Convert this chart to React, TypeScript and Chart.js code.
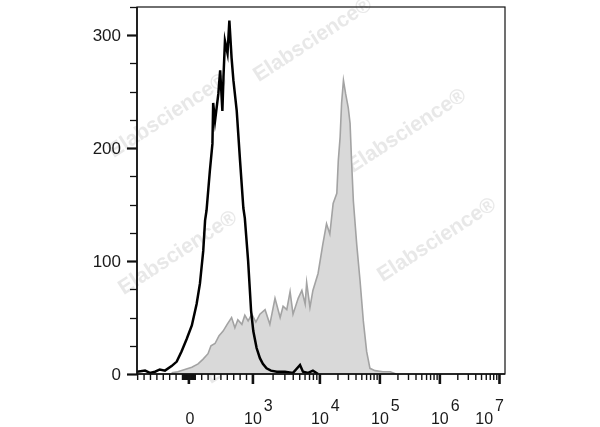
import React, { useEffect, useRef } from 'react';
import { Chart, registerables } from 'chart.js';

Chart.register(...registerables);

// Histogram channels (display position on the logicle axis, 0..1000) and event counts
const BLACK_CHANNEL = [0, 22, 35, 49, 62, 76, 94, 108, 121, 135, 149, 162, 171, 180, 185, 189, 198, 205, 207, 212, 221, 226, 232, 235, 239, 246, 251, 257, 262, 271, 280, 289, 293, 302, 310, 316, 325, 334, 342, 352, 364, 380, 402, 424, 443, 451, 465, 478, 492];
const BLACK_COUNT = [2, 3, 1, 2, 4, 3, 7, 11, 20, 31, 43, 62, 80, 109, 136, 145, 180, 204, 240, 224, 248, 269, 233, 263, 295, 284, 313, 280, 260, 233, 189, 147, 138, 100, 56, 38, 23, 14, 9, 5, 3, 2, 2, 1, 8, 2, 1, 3, 0];

const GREY_CHANNEL = [94, 111, 130, 149, 166, 179, 193, 201, 212, 223, 234, 245, 257, 266, 274, 285, 293, 302, 312, 323, 334, 348, 361, 375, 389, 397, 407, 416, 424, 438, 448, 457, 461, 470, 478, 492, 505, 515, 524, 533, 543, 547, 552, 556, 561, 567, 574, 579, 583, 588, 597, 606, 615, 624, 633, 647, 668, 688, 704];
const GREY_COUNT = [1, 2, 4, 6, 9, 13, 18, 25, 27, 34, 38, 44, 50, 41, 48, 44, 52, 47, 53, 46, 53, 57, 44, 67, 50, 60, 57, 73, 53, 67, 74, 62, 81, 59, 74, 89, 115, 133, 124, 151, 160, 189, 210, 240, 260, 248, 236, 222, 189, 153, 115, 83, 47, 20, 5, 3, 2, 2, 0];

// Axis definitions
const Y_MAJOR_TICKS = [0, 100, 200, 300];
const Y_MINOR_STEP = 25;
const Y_MAX = 325;
const X_MIN = 0;
const X_MAX = 1000;
const ZERO_CHANNEL = 141;
const DECADE_EXPONENTS = [3, 4, 5, 6, 7];
const DECADE_CHANNELS = [315, 497, 660, 823, 985];
const LINEAR_MINOR_VALUES = [-900, -800, -700, -600, -500, -400, -300, -200, -100, -90, -80, -70, -60, -50, -40, -30, -20, -10, 10, 20, 30, 40, 50, 60, 70, 80, 90, 100, 200, 300, 400, 500, 600, 700, 800, 900];
const LOG_MINOR_MULTIPLIERS = [2, 3, 4, 5, 6, 7, 8, 9];
const WATERMARK_TEXT = 'Elabscience®';

function toChannel(v: number): number {
  const firstDecade = Math.pow(10, DECADE_EXPONENTS[0]);
  if (v <= firstDecade) {
    return ZERO_CHANNEL + (v * (DECADE_CHANNELS[0] - ZERO_CHANNEL)) / firstDecade;
  }
  const lg = Math.log10(v);
  for (let i = 0; i < DECADE_EXPONENTS.length - 1; i++) {
    if (lg <= DECADE_EXPONENTS[i + 1]) {
      const f = (lg - DECADE_EXPONENTS[i]) / (DECADE_EXPONENTS[i + 1] - DECADE_EXPONENTS[i]);
      return DECADE_CHANNELS[i] + f * (DECADE_CHANNELS[i + 1] - DECADE_CHANNELS[i]);
    }
  }
  return DECADE_CHANNELS[DECADE_CHANNELS.length - 1];
}

const FONT = '"Liberation Sans", Arial, Helvetica, sans-serif';

const axesPlugin = {
  id: 'flowAxes',
  beforeDatasetsDraw(chart: any) {
    const { ctx } = chart;
    const marks = [
      [313, 40], [168, 116], [407, 131], [178, 253], [437, 240], [265, 342],
    ];
    ctx.save();
    ctx.fillStyle = 'rgba(226,226,226,0.8)';
    ctx.font = `bold 21px ${FONT}`;
    ctx.textAlign = 'center';
    ctx.textBaseline = 'middle';
    for (const [cx, cy] of marks) {
      ctx.save();
      ctx.translate(cx, cy);
      ctx.rotate((-33 * Math.PI) / 180);
      ctx.fillText(WATERMARK_TEXT, 0, 0);
      ctx.restore();
    }
    ctx.restore();
  },
  afterDatasetsDraw(chart: any) {
    const { ctx, chartArea } = chart;
    const xs = chart.scales.x;
    const ys = chart.scales.y;
    const L = chartArea.left;
    const R = chartArea.right;
    const T = chartArea.top;
    const B = chartArea.bottom;
    ctx.save();
    ctx.strokeStyle = '#111';
    ctx.lineCap = 'butt';
    ctx.lineWidth = 1.2;
    ctx.strokeRect(L, T, R - L, B - T);
    ctx.lineWidth = 1.6;
    ctx.beginPath();
    ctx.moveTo(L, T);
    ctx.lineTo(L, B);
    ctx.lineTo(R, B);
    ctx.stroke();

    for (let v = 0; v <= Y_MAX; v += Y_MINOR_STEP) {
      const y = Math.round(ys.getPixelForValue(v)) + 0.5;
      const major = Y_MAJOR_TICKS.includes(v);
      ctx.lineWidth = major ? 2.2 : 1.3;
      ctx.beginPath();
      ctx.moveTo(L - (major ? 10 : 7), y);
      ctx.lineTo(L, y);
      ctx.stroke();
    }
    ctx.fillStyle = '#1a1a1a';
    ctx.font = `17px ${FONT}`;
    ctx.textAlign = 'right';
    ctx.textBaseline = 'middle';
    for (const v of Y_MAJOR_TICKS) {
      ctx.fillText(String(v), L - 16, ys.getPixelForValue(v) + 1);
    }

    const drawXTick = (ch: number, major: boolean) => {
      if (ch < X_MIN || ch > X_MAX) return;
      const x = xs.getPixelForValue(ch);
      ctx.lineWidth = major ? 2.6 : 1.4;
      ctx.beginPath();
      ctx.moveTo(x, B);
      ctx.lineTo(x, B + (major ? 10 : 6));
      ctx.stroke();
    };
    for (const v of LINEAR_MINOR_VALUES) drawXTick(toChannel(v), false);
    for (let i = 0; i < DECADE_EXPONENTS.length - 1; i++) {
      for (const k of LOG_MINOR_MULTIPLIERS) {
        drawXTick(toChannel(k * Math.pow(10, DECADE_EXPONENTS[i])), false);
      }
    }
    drawXTick(ZERO_CHANNEL, true);
    for (const ch of DECADE_CHANNELS) drawXTick(ch, true);

    ctx.textAlign = 'left';
    ctx.textBaseline = 'alphabetic';
    ctx.font = `16px ${FONT}`;
    const baseY = 424;
    const supY = 411;
    const zw = ctx.measureText('0').width;
    ctx.fillText('0', xs.getPixelForValue(ZERO_CHANNEL) + 1 - zw / 2, baseY);
    DECADE_EXPONENTS.forEach((e, i) => {
      const cx = xs.getPixelForValue(DECADE_CHANNELS[i]);
      const bw = ctx.measureText('10').width;
      const ew = ctx.measureText(String(e)).width;
      let x0 = cx - bw / 2;
      const maxRight = R - 1;
      if (x0 + bw + 2 + ew > maxRight) x0 = maxRight - bw - 2 - ew;
      ctx.fillText('10', x0, baseY);
      ctx.fillText(String(e), x0 + bw + 2, supY);
    });
    ctx.restore();
  },
};

export default function App() {
  const ref = useRef<HTMLCanvasElement | null>(null);
  useEffect(() => {
    if (!ref.current) return;
    const chart = new Chart(ref.current, {
      type: 'line',
      data: {
        datasets: [
          {
            label: 'Stained',
            data: GREY_CHANNEL.map((c, i) => ({ x: c, y: GREY_COUNT[i] })),
            borderColor: '#a3a3a3',
            backgroundColor: '#d9d9d9',
            borderWidth: 1.6,
            fill: 'origin',
            pointRadius: 0,
            tension: 0,
            order: 1,
          },
          {
            label: 'Control',
            data: BLACK_CHANNEL.map((c, i) => ({ x: c, y: BLACK_COUNT[i] })),
            borderColor: '#000000',
            backgroundColor: 'rgba(0,0,0,0)',
            borderWidth: 2.5,
            fill: false,
            pointRadius: 0,
            tension: 0,
            order: 0,
          },
        ],
      },
      options: {
        responsive: false,
        animation: false,
        devicePixelRatio: 1,
        layout: { padding: { left: 137, right: 95, top: 7, bottom: 53 } },
        scales: {
          x: { type: 'linear', min: X_MIN, max: X_MAX, display: false },
          y: { type: 'linear', min: 0, max: Y_MAX, display: false },
        },
        plugins: { legend: { display: false }, tooltip: { enabled: false } },
      },
      plugins: [axesPlugin],
    } as any);
    return () => chart.destroy();
  }, []);
  return (
    <div style={{ position: 'absolute', left: 0, top: 0, width: 600, height: 427, background: '#fff' }}>
      <canvas ref={ref} width={600} height={427} style={{ display: 'block' }} />
    </div>
  );
}
